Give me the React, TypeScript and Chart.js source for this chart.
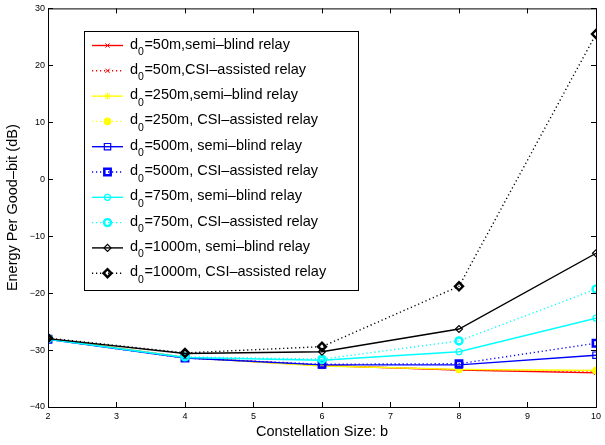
import React, { useEffect, useRef } from 'react';
import { Chart, registerables } from 'chart.js';
import { drawPoint } from 'chart.js/helpers';

Chart.register(...registerables);

// ---------- data ----------
const constellationSizes = [2, 4, 6, 8, 10];

const d50SemiBlind = [-28.0, -31.3, -32.7, -33.5, -34.0];
const d50CsiAssisted = [-28.0, -31.3, -32.7, -33.5, -33.8];
const d250SemiBlind = [-28.0, -31.3, -32.8, -33.4, -33.6];
const d250CsiAssisted = [-28.0, -31.3, -32.7, -33.4, -33.6];
const d500SemiBlind = [-28.1, -31.4, -32.6, -32.6, -30.9];
const d500CsiAssisted = [-28.1, -31.4, -32.5, -32.4, -28.8];
const d750SemiBlind = [-28.1, -31.3, -31.8, -30.3, -24.4];
const d750CsiAssisted = [-28.0, -31.2, -31.6, -28.4, -19.3];
const d1000SemiBlind = [-28.0, -30.6, -30.3, -26.3, -13.0];
const d1000CsiAssisted = [-27.9, -30.5, -29.4, -18.8, 25.5];

const legendPrefix = 'd';
const legendSubscript = '0';
const legendSuffixes = [
  '=50m,semi\u2013blind relay',
  '=50m,CSI\u2013assisted relay',
  '=250m,semi\u2013blind relay',
  '=250m, CSI\u2013assisted relay',
  '=500m, semi\u2013blind relay',
  '=500m, CSI\u2013assisted relay',
  '=750m, semi\u2013blind relay',
  '=750m, CSI\u2013assisted relay',
  '=1000m, semi\u2013blind relay',
  '=1000m, CSI\u2013assisted relay',
];

const seriesValues = [
  d50SemiBlind, d50CsiAssisted, d250SemiBlind, d250CsiAssisted, d500SemiBlind,
  d500CsiAssisted, d750SemiBlind, d750CsiAssisted, d1000SemiBlind, d1000CsiAssisted,
];

const xAxisTitle = 'Constellation Size: b';
const yAxisTitle = 'Energy Per Good\u2013bit (dB)';

// ---------- styles ----------
const DOT = [1.2, 2.8];
const LINE_W = 1.4;
const seriesStyles = [
  { color: '#ff0000', dash: [], point: 'crossRot', r: 3, bw: 1, fill: 'rgba(0,0,0,0)' },
  { color: '#ff0000', dash: DOT, point: 'crossRot', r: 3, bw: 1, fill: 'rgba(0,0,0,0)' },
  { color: '#ffff00', dash: [], point: 'star', r: 3.5, bw: 1, fill: 'rgba(0,0,0,0)' },
  { color: '#ffff00', dash: DOT, point: 'circle', r: 3.5, bw: 1, fill: '#ffff00' },
  { color: '#0000ff', dash: [], point: 'rect', r: 4.5, bw: 1.2, fill: 'rgba(0,0,0,0)' },
  { color: '#0000ff', dash: DOT, point: 'rect', r: 4.5, bw: 2.5, fill: 'rgba(0,0,0,0)' },
  { color: '#00ffff', dash: [], point: 'circle', r: 3, bw: 1.2, fill: 'rgba(0,0,0,0)' },
  { color: '#00ffff', dash: DOT, point: 'circle', r: 3.5, bw: 2.4, fill: 'rgba(0,0,0,0)' },
  { color: '#000000', dash: [], point: 'rectRot', r: 3.5, bw: 1.2, fill: 'rgba(0,0,0,0)' },
  { color: '#000000', dash: DOT, point: 'rectRot', r: 4, bw: 2.4, fill: 'rgba(0,0,0,0)' },
];

const FONT = '"Liberation Sans", Arial, Helvetica, sans-serif';

const frameAndLegend = {
  id: 'frameAndLegend',
  afterDatasetsDraw(chart: any) {
    const { ctx, chartArea: a, scales } = chart;
    const L = a.left, R = a.right, T = a.top, B = a.bottom;
    ctx.save();
    ctx.strokeStyle = '#000';
    ctx.lineWidth = 1;
    ctx.setLineDash([]);
    ctx.strokeRect(L + 0.5, T + 0.5, R - L, B - T);
    const tl = 5;
    ctx.beginPath();
    scales.x.ticks.forEach((t: any) => {
      const px = Math.round(scales.x.getPixelForValue(t.value)) + 0.5;
      ctx.moveTo(px, B); ctx.lineTo(px, B - tl);
      ctx.moveTo(px, T); ctx.lineTo(px, T + tl);
    });
    scales.y.ticks.forEach((t: any) => {
      const py = Math.round(scales.y.getPixelForValue(t.value)) + 0.5;
      ctx.moveTo(L, py); ctx.lineTo(L + tl, py);
      ctx.moveTo(R, py); ctx.lineTo(R - tl, py);
    });
    ctx.stroke();
    ctx.restore();
  },
  afterDraw(chart: any) {
    const ctx = chart.ctx;
    ctx.save();
    const bx = 84.5, by = 31.5, bw = 274, bh = 259;
    ctx.fillStyle = '#fff';
    ctx.fillRect(bx, by, bw, bh);
    ctx.strokeStyle = '#000';
    ctx.lineWidth = 1;
    ctx.setLineDash([]);
    ctx.strokeRect(bx, by, bw, bh);
    seriesStyles.forEach((s, i) => {
      const ly = 45.5 + 25.3 * i;
      ctx.strokeStyle = s.color;
      ctx.lineWidth = LINE_W;
      ctx.setLineDash(s.dash);
      ctx.beginPath();
      ctx.moveTo(92, ly);
      ctx.lineTo(123, ly);
      ctx.stroke();
      ctx.setLineDash([]);
      ctx.fillStyle = s.fill;
      ctx.strokeStyle = s.color;
      ctx.lineWidth = s.bw;
      drawPoint(ctx, { pointStyle: s.point, radius: s.r, borderWidth: s.bw, rotation: 0 } as any, 107.5, ly);
      ctx.fillStyle = '#000';
      ctx.textBaseline = 'alphabetic';
      ctx.textAlign = 'left';
      let x = 130;
      ctx.font = `14.5px ${FONT}`;
      ctx.fillText(legendPrefix, x, ly + 3);
      x += ctx.measureText(legendPrefix).width;
      ctx.font = `10.5px ${FONT}`;
      ctx.fillText(legendSubscript, x, ly + 9.5);
      x += ctx.measureText(legendSubscript).width + 0.5;
      ctx.font = `14.5px ${FONT}`;
      ctx.fillText(legendSuffixes[i], x, ly + 3);
    });
    ctx.restore();
  },
};

export default function App() {
  const ref = useRef<HTMLCanvasElement | null>(null);
  useEffect(() => {
    if (!ref.current) return;
    const datasets = seriesValues.map((vals, i) => {
      const s = seriesStyles[i];
      return {
        label: legendPrefix + legendSubscript + legendSuffixes[i],
        data: constellationSizes.map((x, j) => ({ x, y: vals[j] })),
        borderColor: s.color,
        backgroundColor: s.fill,
        borderWidth: LINE_W,
        borderDash: s.dash,
        pointStyle: s.point,
        pointRadius: s.r,
        pointBorderWidth: s.bw,
        pointBorderColor: s.color,
        pointBackgroundColor: s.fill,
        tension: 0,
        fill: false,
        order: 20 - i,
      };
    });
    const chart = new Chart(ref.current, {
      type: 'line',
      data: { datasets },
      options: {
        animation: false,
        responsive: false,
        devicePixelRatio: 1,
        layout: { padding: { left: 0, right: 5, top: 8, bottom: 0 } },
        plugins: { legend: { display: false }, tooltip: { enabled: false } },
        scales: {
          x: {
            type: 'linear',
            min: 2,
            max: 10,
            ticks: {
              stepSize: 1,
              color: '#000',
              padding: 4,
              maxRotation: 0,
              font: { family: FONT, size: 9 },
            },
            grid: { display: false, drawTicks: false },
            border: { display: false },
            title: {
              display: true,
              text: xAxisTitle,
              color: '#000',
              padding: { top: 0, bottom: 4 },
              font: { family: FONT, size: 14.5 },
            },
            afterFit: (s: any) => { s.height = 38; },
          },
          y: {
            type: 'linear',
            min: -40,
            max: 30,
            ticks: {
              stepSize: 10,
              color: '#000',
              padding: 3,
              font: { family: FONT, size: 9 },
              callback: (v: any) => (Number(v) < 0 ? '\u2212' + Math.abs(Number(v)) : String(v)),
            },
            grid: { display: false, drawTicks: false },
            border: { display: false },
            title: {
              display: true,
              text: yAxisTitle,
              color: '#000',
              padding: { top: 4, bottom: 0 },
              font: { family: FONT, size: 14.5 },
            },
            afterFit: (s: any) => { s.width = 48; },
          },
        },
      },
      plugins: [frameAndLegend],
    });
    return () => chart.destroy();
  }, []);
  return (
    <div style={{ position: 'absolute', left: 0, top: 0, width: 605, height: 445, background: '#fff' }}>
      <canvas ref={ref} width={605} height={445} style={{ display: 'block' }} />
    </div>
  );
}
